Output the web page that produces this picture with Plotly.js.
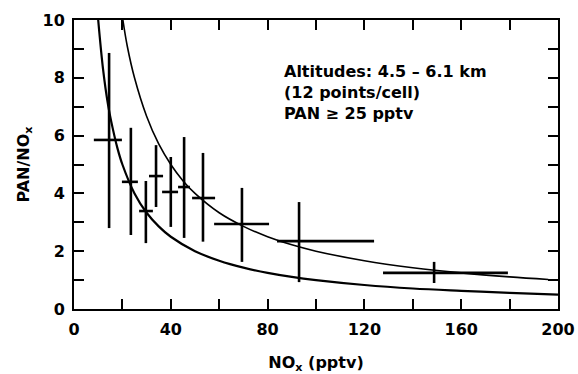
<!DOCTYPE html>
<html>
<head>
<meta charset="utf-8">
<script src="https://cdn.plot.ly/plotly-3.0.1.min.js"></script>
<style>
html,body{margin:0;padding:0;background:#fff;}
#chart{width:578px;height:374px;}
</style>
</head>
<body>
<div id="chart"></div>
<script>
// Binned observations (center, horizontal range, vertical range)
const noxCenter = [14.5, 23.5, 29.7, 33.9, 40.0, 45.5, 53.3, 69.4, 93.0, 148.8];
const ratioCenter = [5.85, 4.40, 3.39, 4.60, 4.05, 4.22, 3.84, 2.94, 2.35, 1.25];
const noxLow = [8.2, 19.8, 26.9, 31.0, 36.4, 43.0, 48.8, 57.9, 83.9, 127.7];
const noxHigh = [19.8, 26.4, 32.6, 36.8, 43.0, 47.9, 58.3, 80.6, 124.0, 179.3];
const ratioLow = [2.80, 2.56, 2.28, 3.53, 2.84, 2.46, 2.33, 1.63, 0.93, 0.90];
const ratioHigh = [8.86, 6.27, 4.43, 5.67, 5.26, 5.95, 5.40, 4.19, 3.70, 1.63];

// Upper reference curve
const upperX = [20.2, 22, 25, 30, 35, 40, 45, 50, 60, 70, 80, 90, 100, 120, 140, 160, 180, 196];
const upperY = [10.0, 9.1, 8.0, 6.67, 5.71, 5.0, 4.44, 4.0, 3.33, 2.86, 2.5, 2.22, 2.0, 1.67, 1.43, 1.25, 1.11, 1.02];

// Lower reference curve
const lowerX = [10, 12, 14, 16, 18, 20, 25, 30, 35, 40, 50, 60, 70, 80, 90, 100, 120, 140, 160, 180, 200];
const lowerY = [10.0, 8.3, 7.1, 6.25, 5.55, 5.0, 4.0, 3.33, 2.86, 2.5, 2.0, 1.67, 1.43, 1.25, 1.11, 1.0, 0.83, 0.71, 0.63, 0.56, 0.5];

const xTickVals = [0, 40, 80, 120, 160, 200];
const yTickVals = [0, 2, 4, 6, 8, 10];

const font = 'DejaVu Sans, Arial, sans-serif';

const traces = [
  {
    x: upperX, y: upperY, type: 'scatter', mode: 'lines',
    line: {color: '#000', width: 1.6, shape: 'spline'}, hoverinfo: 'skip'
  },
  {
    x: lowerX, y: lowerY, type: 'scatter', mode: 'lines',
    line: {color: '#000', width: 2.2, shape: 'spline'}, hoverinfo: 'skip'
  },
  {
    x: noxCenter, y: ratioCenter, type: 'scatter', mode: 'markers',
    marker: {size: 1, color: '#000'},
    error_x: {
      type: 'data', symmetric: false,
      array: noxCenter.map((v, i) => noxHigh[i] - v),
      arrayminus: noxCenter.map((v, i) => v - noxLow[i]),
      color: '#000', thickness: 2.6, width: 0
    },
    error_y: {
      type: 'data', symmetric: false,
      array: ratioCenter.map((v, i) => ratioHigh[i] - v),
      arrayminus: ratioCenter.map((v, i) => v - ratioLow[i]),
      color: '#000', thickness: 2.6, width: 0
    }
  }
];

const axisCommon = {
  showgrid: false, zeroline: false,
  showline: true, linecolor: '#000', linewidth: 2, mirror: 'ticks',
  ticks: 'inside', ticklen: 10, tickwidth: 2, tickcolor: '#000',
  tickfont: {family: font, size: 16, color: '#000', weight: 'bold'}
};

const layout = {
  width: 578, height: 374,
  margin: {l: 74, r: 20, t: 20, b: 65},
  paper_bgcolor: '#fff', plot_bgcolor: '#fff',
  showlegend: false,
  font: {family: font, color: '#000'},
  xaxis: Object.assign({}, axisCommon, {
    range: [0, 200], tickmode: 'array', tickvals: xTickVals,
    ticklabelstandoff: 5,
    minor: {dtick: 20, ticks: 'inside', ticklen: 10, tickwidth: 2, tickcolor: '#000', showgrid: false},
    title: {text: 'NO<sub>x</sub> (pptv)', font: {family: font, size: 16, color: '#000', weight: 'bold'}, standoff: 19}
  }),
  yaxis: Object.assign({}, axisCommon, {
    range: [0, 10], tickmode: 'array', tickvals: yTickVals,
    ticklabelstandoff: 4,
    minor: {dtick: 1, ticks: 'inside', ticklen: 10, tickwidth: 2, tickcolor: '#000', showgrid: false},
    title: {text: 'PAN/NO<sub>x</sub>', font: {family: font, size: 16, color: '#000', weight: 'bold'}, standoff: 9}
  }),
  annotations: [{
    xref: 'paper', yref: 'paper', x: 0.43, y: 0.86,
    xanchor: 'left', yanchor: 'top', align: 'left', showarrow: false,
    text: 'Altitudes: 4.5 – 6.1 km<br>(12 points/cell)<br>PAN ≥ 25 pptv',
    font: {family: font, size: 16, color: '#000', weight: 'bold'}
  }]
};

Plotly.newPlot('chart', traces, layout, {displayModeBar: false, staticPlot: true});
</script>
</body>
</html>
